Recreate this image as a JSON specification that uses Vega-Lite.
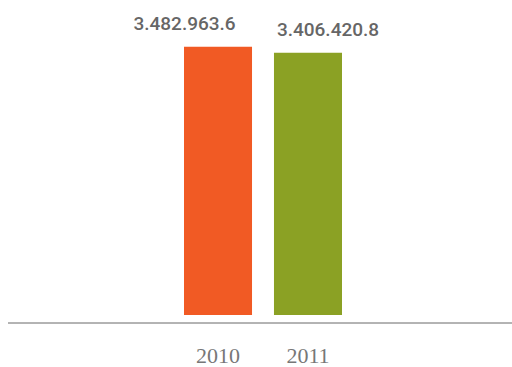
{
  "$schema": "https://vega.github.io/schema/vega-lite/v6.json",
  "autosize": "none",
  "width": 504,
  "height": 308,
  "padding": {"left": 8, "top": 7, "right": 0, "bottom": 52},
  "background": "white",
  "config": {"view": {"stroke": null}},
  "data": {"values": [
    {"year": "2010", "value": 3482963.6, "label": "3.482.963.6"},
    {"year": "2011", "value": 3406420.8, "label": "3.406.420.8"}
  ]},
  "encoding": {
    "x": {"field": "year", "type": "nominal", "sort": null,
      "scale": {"range": [176, 334], "paddingInner": 0.244, "paddingOuter": 0},
      "axis": {"title": null, "ticks": false, "tickSize": 0, "domain": false, "offset": 8,
        "labelAngle": 0, "labelPadding": 39, "labelBaseline": "alphabetic", "labelFont": "Liberation Serif", "labelFontSize": 22, "labelColor": "#777777", "labelDx": -5}},
    "y": {"field": "value", "type": "quantitative", "scale": {"domain": [0, 4000000]}, "axis": null}
  },
  "layer": [
    {"mark": {"type": "bar"},
     "encoding": {"color": {"field": "year", "type": "nominal", "scale": {"range": ["#F15A24", "#8BA124"]}, "legend": null}}},
    {"mark": {"type": "rule", "color": "#9a9a9a", "strokeWidth": 1, "yOffset": 8},
     "encoding": {"x": null, "y": {"datum": 0}, "color": null}},
    {"transform": [{"filter": "datum.year == '2010'"}],
     "mark": {"type": "text", "baseline": "alphabetic", "align": "center", "dx": -33.5, "dy": -16.5, "font": "Roboto", "fontWeight": 500, "fontSize": 19, "color": "#666666"},
     "encoding": {"text": {"field": "label"}}},
    {"transform": [{"filter": "datum.year == '2011'"}],
     "mark": {"type": "text", "baseline": "alphabetic", "align": "center", "dx": 20, "dy": -16.5, "font": "Roboto", "fontWeight": 500, "fontSize": 19, "color": "#666666"},
     "encoding": {"text": {"field": "label"}}}
  ]
}
